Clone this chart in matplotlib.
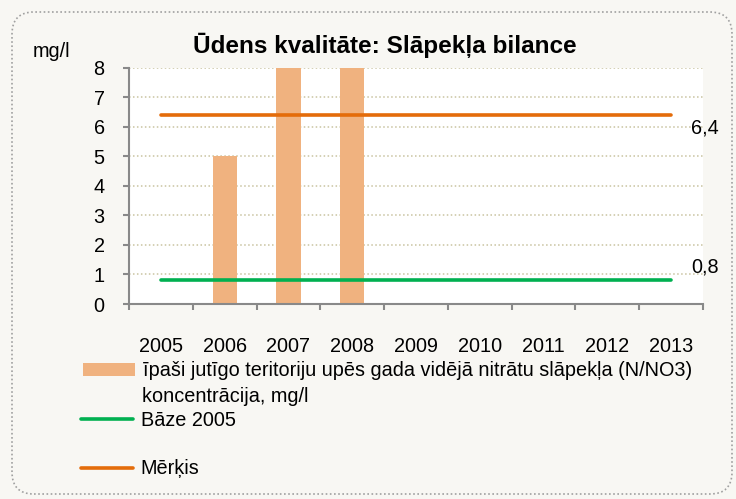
#!/usr/bin/env python

import numpy as np
import matplotlib.pyplot as plt
from matplotlib.patches import FancyBboxPatch

years = ['2005', '2006', '2007', '2008', '2009', '2010', '2011', '2012', '2013']
nitrate = [np.nan, 5, 8, 8, np.nan, np.nan, np.nan, np.nan, np.nan]
baze = [0.8] * 9
merkis = [6.4] * 9

title = 'Ūdens kvalitāte: Slāpekļa bilance'
bar_label_1 = 'īpaši jutīgo teritoriju upēs gada vidējā nitrātu slāpekļa (N/NO3)'
bar_label_2 = 'koncentrācija, mg/l'
baze_label = 'Bāze 2005'
merkis_label = 'Mērķis'

bg = '#f8f7f3'
bar_color = '#f0b27f'
green = '#00b050'
orange = '#e46c0a'
grey = '#898989'
fs = 14.3

W, H = 736, 499
plt.rcParams['font.family'] = ['Liberation Sans', 'DejaVu Sans']

fig = plt.figure(figsize=(W / 100, H / 100), dpi=100)
fig.patch.set_facecolor(bg)

# rounded dotted frame
frame = FancyBboxPatch((0.12, 0.05), 7.2, 4.82, boxstyle='round,pad=0,rounding_size=0.22',
                       transform=fig.dpi_scale_trans, facecolor='none', edgecolor='#a0a0a0',
                       linestyle=(0, (1, 1.5)), linewidth=1.2)
fig.patches.append(frame)


def px(x0, y0, x1, y1):
    return [x0 / W, 1 - y1 / H, (x1 - x0) / W, (y1 - y0) / H]


ax = fig.add_axes(px(129, 67.7, 703, 304))
ax.set_facecolor('white')

x = np.arange(len(years))
bars = ax.bar(x, nitrate, width=0.38, color=bar_color, zorder=2)
l_baze, = ax.plot(x, baze, color=green, lw=2.6, solid_capstyle='round', zorder=3)
l_merkis, = ax.plot(x, merkis, color=orange, lw=2.6, solid_capstyle='round', zorder=3)

for vals, dy in ((merkis, -9.5), (baze, 9.5)):
    ax.annotate('{:.1f}'.format(vals[-1]).replace('.', ','), xy=(x[-1], vals[-1]),
                xytext=(14.5, dy), textcoords='offset points', ha='left', va='center',
                fontsize=fs, annotation_clip=False)

ax.set_xlim(-0.5, len(years) - 0.5)
ax.set_ylim(0, 8)
ax.set_yticks(range(0, 9))
ax.set_xticks(x)
ax.set_xticklabels(years)
ax.set_xticks(np.arange(-0.5, len(years)), minor=True)
ax.tick_params(axis='x', which='major', length=0, pad=24, labelsize=fs)
ax.tick_params(axis='x', which='minor', length=4.5, width=1.5, color=grey, direction='out')
ax.tick_params(axis='y', length=4.5, width=1.5, color=grey, direction='out', pad=13, labelsize=fs)

for s in ('top', 'right'):
    ax.spines[s].set_visible(False)
for s in ('left', 'bottom'):
    ax.spines[s].set_color(grey)
    ax.spines[s].set_linewidth(1.5)

for v in range(1, 9):
    ax.axhline(v, color='#c9c3a0', lw=1.1, linestyle=(0, (1, 1.6)), zorder=1)

fig.text(385 / W, 1 - 53 / H, title, ha='center', va='baseline', fontsize=17.5,
         fontweight='bold')
fig.text(33 / W, 1 - 57 / H, 'mg/l', ha='left', va='baseline', fontsize=fs)

leg_kw = dict(loc='center left', frameon=False, fontsize=fs, borderpad=0, borderaxespad=0,
              handlelength=2.6, handletextpad=0.4, handleheight=0.6)
fig.legend([bars], [bar_label_1], bbox_to_anchor=(83 / W, 1 - 371 / H), **leg_kw)
fig.text(142 / W, 1 - 402 / H, bar_label_2, ha='left', va='baseline', fontsize=fs)
fig.legend([l_baze], [baze_label], bbox_to_anchor=(81 / W, 1 - 420 / H), **leg_kw)
fig.legend([l_merkis], [merkis_label], bbox_to_anchor=(81 / W, 1 - 469 / H), **leg_kw)

plt.savefig('out.png', dpi=100, facecolor=bg)
